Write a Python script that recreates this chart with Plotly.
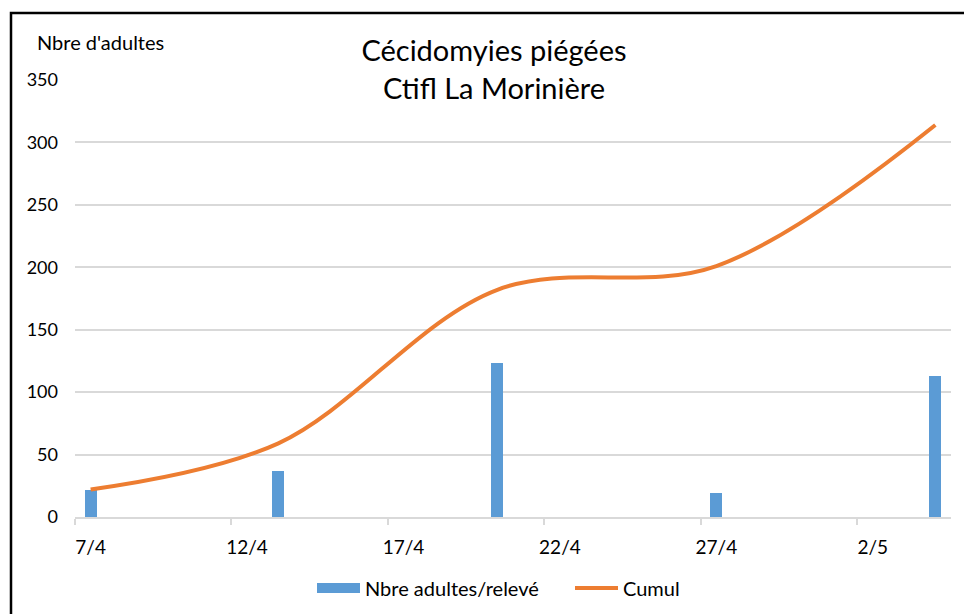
import plotly.graph_objects as go
import pandas as pd

dates = ["2021-04-07", "2021-04-13", "2021-04-20", "2021-04-27", "2021-05-04"]
adultes = [22, 37, 123, 19, 113]
cumul = [22, 59, 182, 201, 314]
tick_dates = ["2021-04-07", "2021-04-12", "2021-04-17", "2021-04-22", "2021-04-27", "2021-05-02"]
tick_labels = ["7/4", "12/4", "17/4", "22/4", "27/4", "2/5"]

x = pd.to_datetime(dates) + pd.Timedelta(hours=12)
tick_mid = pd.to_datetime(tick_dates) + pd.Timedelta(hours=12)
tick_edges = pd.to_datetime(tick_dates)

FONT = "Lato, Carlito, Calibri, sans-serif"
BLUE = "#5B9BD5"
ORANGE = "#ED7D31"

fig = go.Figure()
fig.add_trace(go.Bar(
    x=x, y=adultes, name="Nbre adultes/relevé",
    marker=dict(color=BLUE, line=dict(width=0)),
    width=0.38 * 86400000, showlegend=False, legendgroup="a",
))
# legend swatch for the bars (wide rectangle, as in the original legend)
fig.add_trace(go.Scatter(
    x=[None], y=[None], name="Nbre adultes/relevé", mode="lines",
    line=dict(color=BLUE, width=14), legendgroup="a", hoverinfo="skip",
))
fig.add_trace(go.Scatter(
    x=x, y=cumul, name="Cumul", mode="lines",
    line=dict(color=ORANGE, width=4, shape="spline", smoothing=1.0),
))

fig.update_layout(
    width=964, height=614,
    margin=dict(l=75, r=13, t=80, b=97, autoexpand=False),
    paper_bgcolor="white", plot_bgcolor="white",
    font=dict(family=FONT, size=18, color="#000000"),
    title=dict(text="Cécidomyies piégées<br>Ctifl La Morinière", x=494 / 964, xanchor="center",
               y=1 - 61 / 614, yanchor="middle", font=dict(size=29, family=FONT, color="#000000")),
    showlegend=True,
    legend=dict(orientation="h", x=(570 - 75) / 876, xanchor="center", yref="container", y=1 - 588 / 614,
                yanchor="middle", font=dict(size=20, family=FONT), traceorder="normal",
                itemwidth=43, entrywidth=200, entrywidthmode="pixels"),
    bargap=0,
)
fig.update_xaxes(
    type="date",
    range=["2021-04-07", "2021-05-05"],
    tickvals=tick_mid, ticktext=tick_labels, ticks="", ticklen=0,
    tickfont=dict(size=19, family=FONT), ticklabelstandoff=12,
    showgrid=False, showline=True, linecolor="#d9d9d9", linewidth=1.5,
    zeroline=False,
    minor=dict(tickvals=tick_edges, ticks="outside", ticklen=6, tickcolor="#d9d9d9", tickwidth=1.5, showgrid=False),
)
fig.update_yaxes(
    range=[0, 350], dtick=50, tick0=0,
    showgrid=True, gridcolor="#d9d9d9", gridwidth=1.5,
    zeroline=False, showline=False, ticks="",
    tickfont=dict(size=18, family=FONT), ticklabelstandoff=16,
)
fig.add_annotation(text="Nbre d'adultes", xref="paper", yref="paper",
                   x=(35 - 75) / 876, y=(517 - 42) / 437, xanchor="left", yanchor="middle",
                   showarrow=False, font=dict(size=20, family=FONT))
fig.add_shape(type="rect", xref="paper", yref="paper",
              x0=(11 - 75) / 876, x1=(975 - 75) / 876,
              y0=(517 - 625) / 437, y1=(517 - 13) / 437,
              line=dict(color="black", width=2.5), fillcolor="rgba(0,0,0,0)", layer="below")

fig.write_html("out.html", config={"displayModeBar": False},
               post_script="document.body.style.margin='0';document.body.style.overflow='hidden';")
